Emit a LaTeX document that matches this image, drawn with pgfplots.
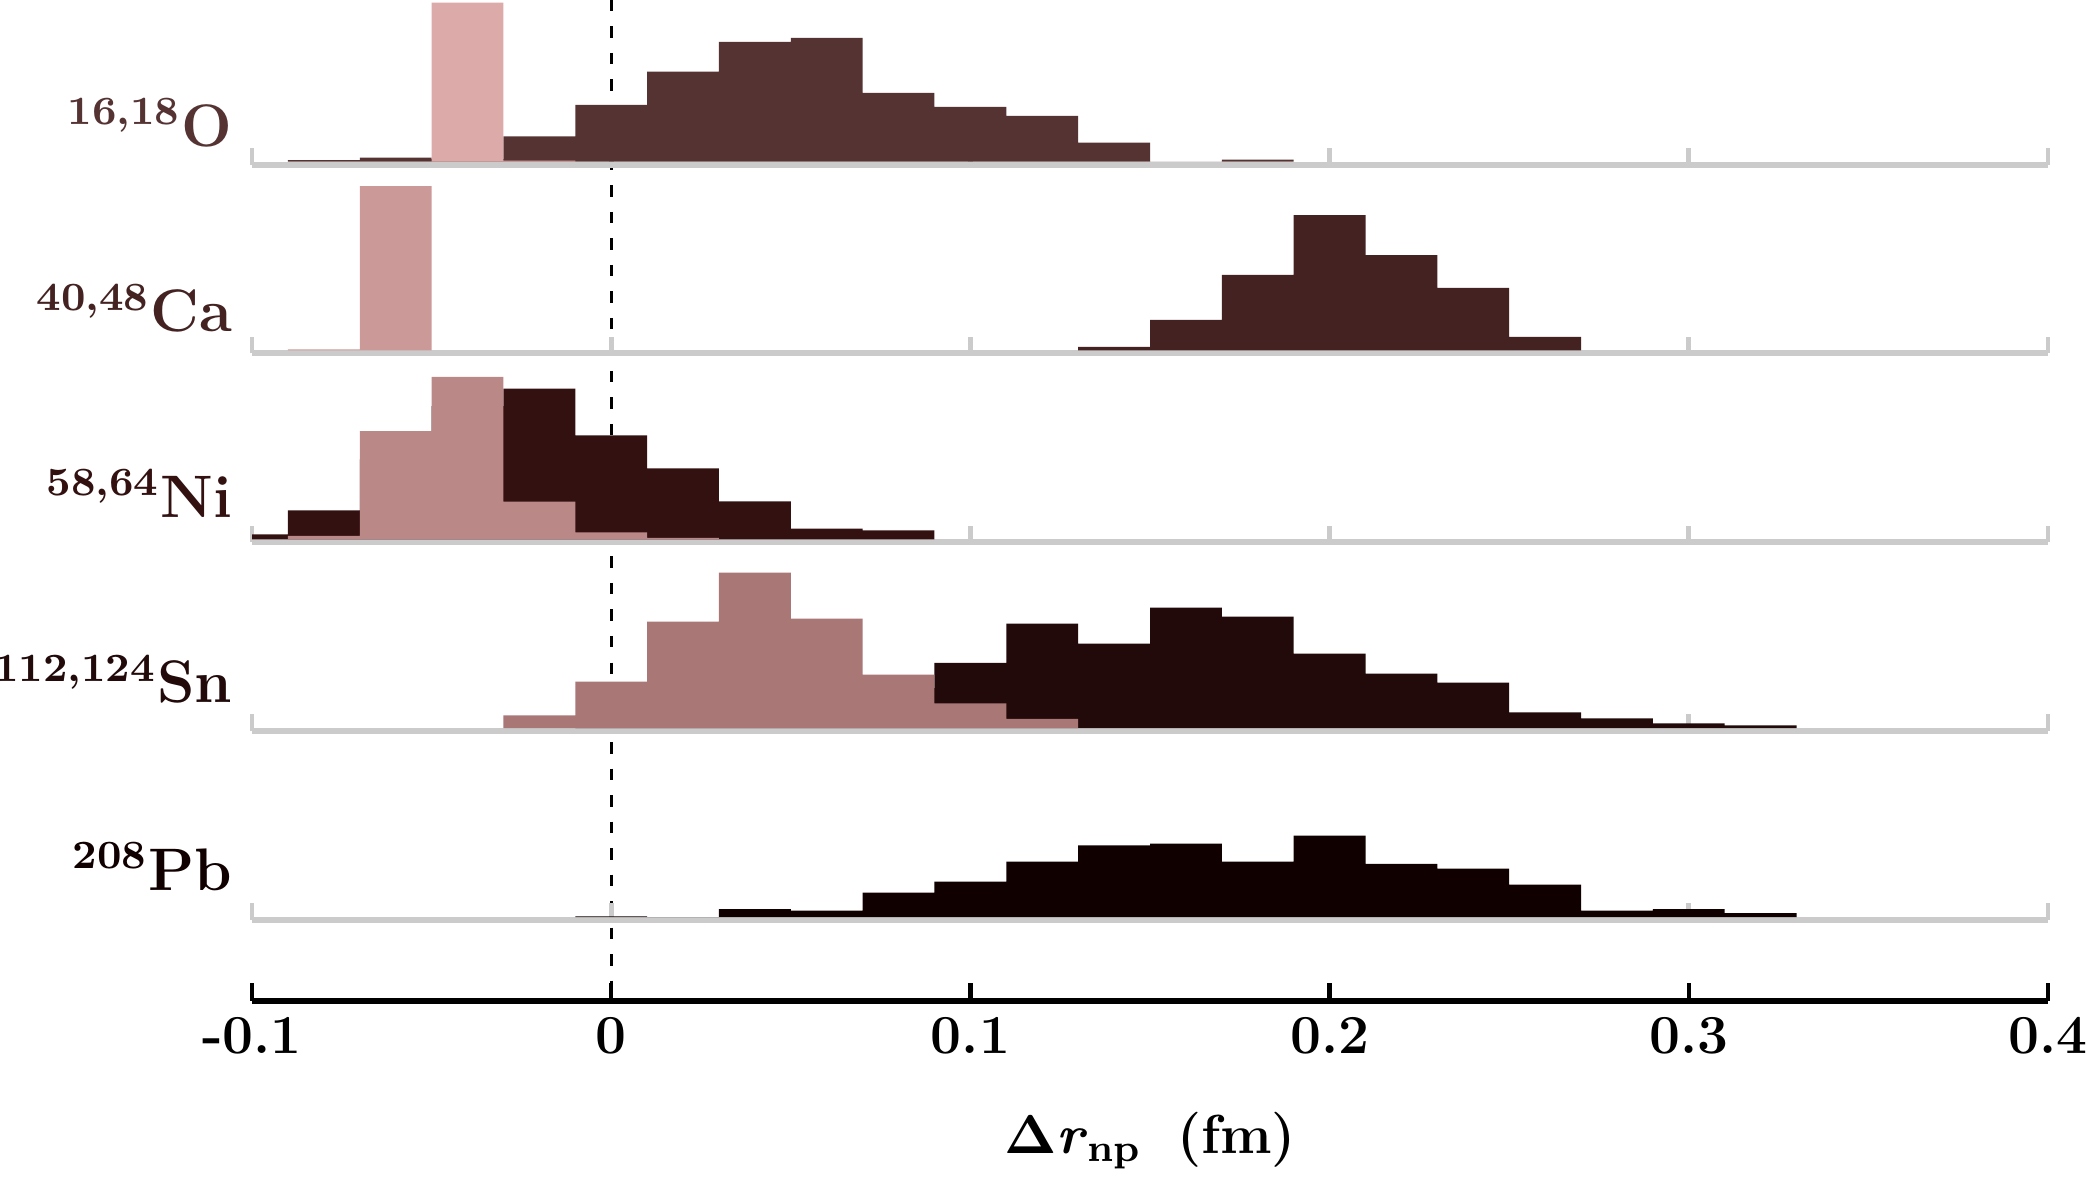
\documentclass[border=0pt]{standalone}
\usepackage{pgfplots}
\pgfplotsset{compat=1.18}

\definecolor{LineGray}{HTML}{CBCBCB}
\definecolor{OPink}{HTML}{DDAAAA}
\definecolor{ODark}{HTML}{553333}
\definecolor{CaPink}{HTML}{CC9999}
\definecolor{CaDark}{HTML}{442222}
\definecolor{NiPink}{HTML}{BB8888}
\definecolor{NiDark}{HTML}{331111}
\definecolor{SnPink}{HTML}{AA7777}
\definecolor{SnDark}{HTML}{220A0A}
\definecolor{PbDark}{HTML}{110000}

\pgfplotsset{
  panel/.style={
    scale only axis, width=359.2pt, height=33.87pt,
    anchor=south west,
    xmin=-0.1, xmax=0.4, ymin=-2.25, ymax=125,
    hide y axis, axis x line*=bottom,
    x axis line style={draw=LineGray, line width=1.2pt},
    xtick={-0.1,0,0.1,0.2,0.3,0.4}, xticklabels={,,,,,},
    xtick align=inside, major tick length=3.34pt,
    xtick style={draw=LineGray, line width=0.94pt},
    clip mode=individual,
  },
  histbar/.style={ybar interval, draw=none, fill=#1},
}
\tikzset{
  nuc/.style={anchor=base east, inner sep=0pt, xshift=-3.7pt, text=#1,
    font=\fontsize{12}{14}\selectfont\bfseries},
}

\begin{document}
\begin{tikzpicture}
\useasboundingbox (0,0) rectangle (417.4pt,235.6pt);
% common x axis and the dashed line at zero
\begin{axis}[
  scale only axis, width=359.2pt, height=200.14pt,
  at={(50.4pt,35.46pt)}, anchor=south west,
  xmin=-0.1, xmax=0.4, ymin=0, ymax=1,
  hide y axis, axis x line*=bottom,
  x axis line style={draw=black, line width=1.2pt},
  xtick={-0.1,0,0.1,0.2,0.3,0.4},
  xticklabels={-0.1,0,0.1,0.2,0.3,0.4},
  xtick align=inside, major tick length=3.48pt,
  xtick style={draw=black, line width=0.86pt},
  xticklabel style={anchor=base, yshift=-10.46pt, inner sep=0pt,
    font=\fontsize{11}{13}\selectfont\bfseries},
]
\addplot[black, line width=0.65pt, dash pattern=on 2.3pt off 3pt] coordinates {(0,1) (0,0)};
\end{axis}
\node[anchor=base, inner sep=0pt, font=\fontsize{11}{13}\selectfont\bfseries]
  at (230pt,4.93pt) {$\mathbf{\Delta}$\textit{r}\textsubscript{np}\hspace{7pt}(fm)};

% 16,18 O
\begin{axis}[panel, at={(50.4pt,202.66pt)}]
\addplot[histbar=ODark] coordinates {
  (-0.09,1.25) (-0.07,3) (-0.05,2) (-0.03,19) (-0.01,42.75) (0.01,67.75)
  (0.03,90) (0.05,93) (0.07,51.75) (0.09,41.25) (0.11,34.5) (0.13,14.25)
  (0.15,0) (0.17,1.5) (0.19,0)};
\addplot[histbar=OPink] coordinates {(-0.05,119.5) (-0.03,0.75) (-0.01,0)};
\node[nuc=ODark] at (axis cs:-0.1,11.5) {\textsuperscript{16,18}O};
\end{axis}

% 40,48 Ca
\begin{axis}[panel, at={(50.4pt,164.90pt)}]
\addplot[histbar=CaDark] coordinates {
  (0.13,2.75) (0.15,23) (0.17,56.75) (0.19,101.75) (0.21,71.75)
  (0.23,47) (0.25,10.25) (0.27,0)};
\addplot[histbar=CaPink] coordinates {(-0.09,0.75) (-0.07,123.5) (-0.05,0)};
\node[nuc=CaDark] at (axis cs:-0.1,14) {\textsuperscript{40,48}Ca};
\end{axis}

% 58,64 Ni
\begin{axis}[panel, at={(50.4pt,127.14pt)}]
\addplot[histbar=NiDark] coordinates {
  (-0.1,3.75) (-0.09,21.75) (-0.07,60) (-0.05,100) (-0.03,113.25)
  (-0.01,78) (0.01,53.25) (0.03,28.5) (0.05,8) (0.07,6.75) (0.09,0)};
\addplot[histbar=NiPink] coordinates {
  (-0.09,2.5) (-0.07,81.25) (-0.05,122) (-0.03,28.25) (-0.01,5.25)
  (0.01,1) (0.03,0)};
\node[nuc=NiDark] at (axis cs:-0.1,16.5) {\textsuperscript{58,64}Ni};
\end{axis}

% 112,124 Sn
\begin{axis}[panel, at={(50.4pt,89.38pt)}]
\addplot[histbar=SnDark] coordinates {
  (-0.01,1) (0.01,3) (0.03,8) (0.05,15) (0.07,30) (0.09,49) (0.11,78.5)
  (0.13,63.5) (0.15,90.5) (0.17,83.75) (0.19,56) (0.21,41) (0.23,34.25)
  (0.25,11.75) (0.27,7.25) (0.29,3.5) (0.31,2) (0.33,0)};
\addplot[histbar=SnPink] coordinates {
  (-0.03,9.5) (-0.01,35) (0.01,80) (0.03,116.75) (0.05,82.25)
  (0.07,40.25) (0.09,18.5) (0.11,7) (0.13,0)};
\node[nuc=SnDark] at (axis cs:-0.1,19) {\textsuperscript{112,124}Sn};
\end{axis}

% 208 Pb
\begin{axis}[panel, at={(50.4pt,51.60pt)}]
\addplot[histbar=PbDark] coordinates {
  (-0.01,0.5) (0.01,0) (0.03,6) (0.05,4.75) (0.07,18.3) (0.09,26.5)
  (0.11,41.6) (0.13,53.8) (0.15,55.1) (0.17,41.6) (0.19,61.1) (0.21,40)
  (0.23,36.3) (0.25,24.3) (0.27,4.75) (0.29,6) (0.31,3) (0.33,0)};
\node[nuc=PbDark] at (axis cs:-0.1,20) {\textsuperscript{208}Pb};
\end{axis}
\end{tikzpicture}
\end{document}
